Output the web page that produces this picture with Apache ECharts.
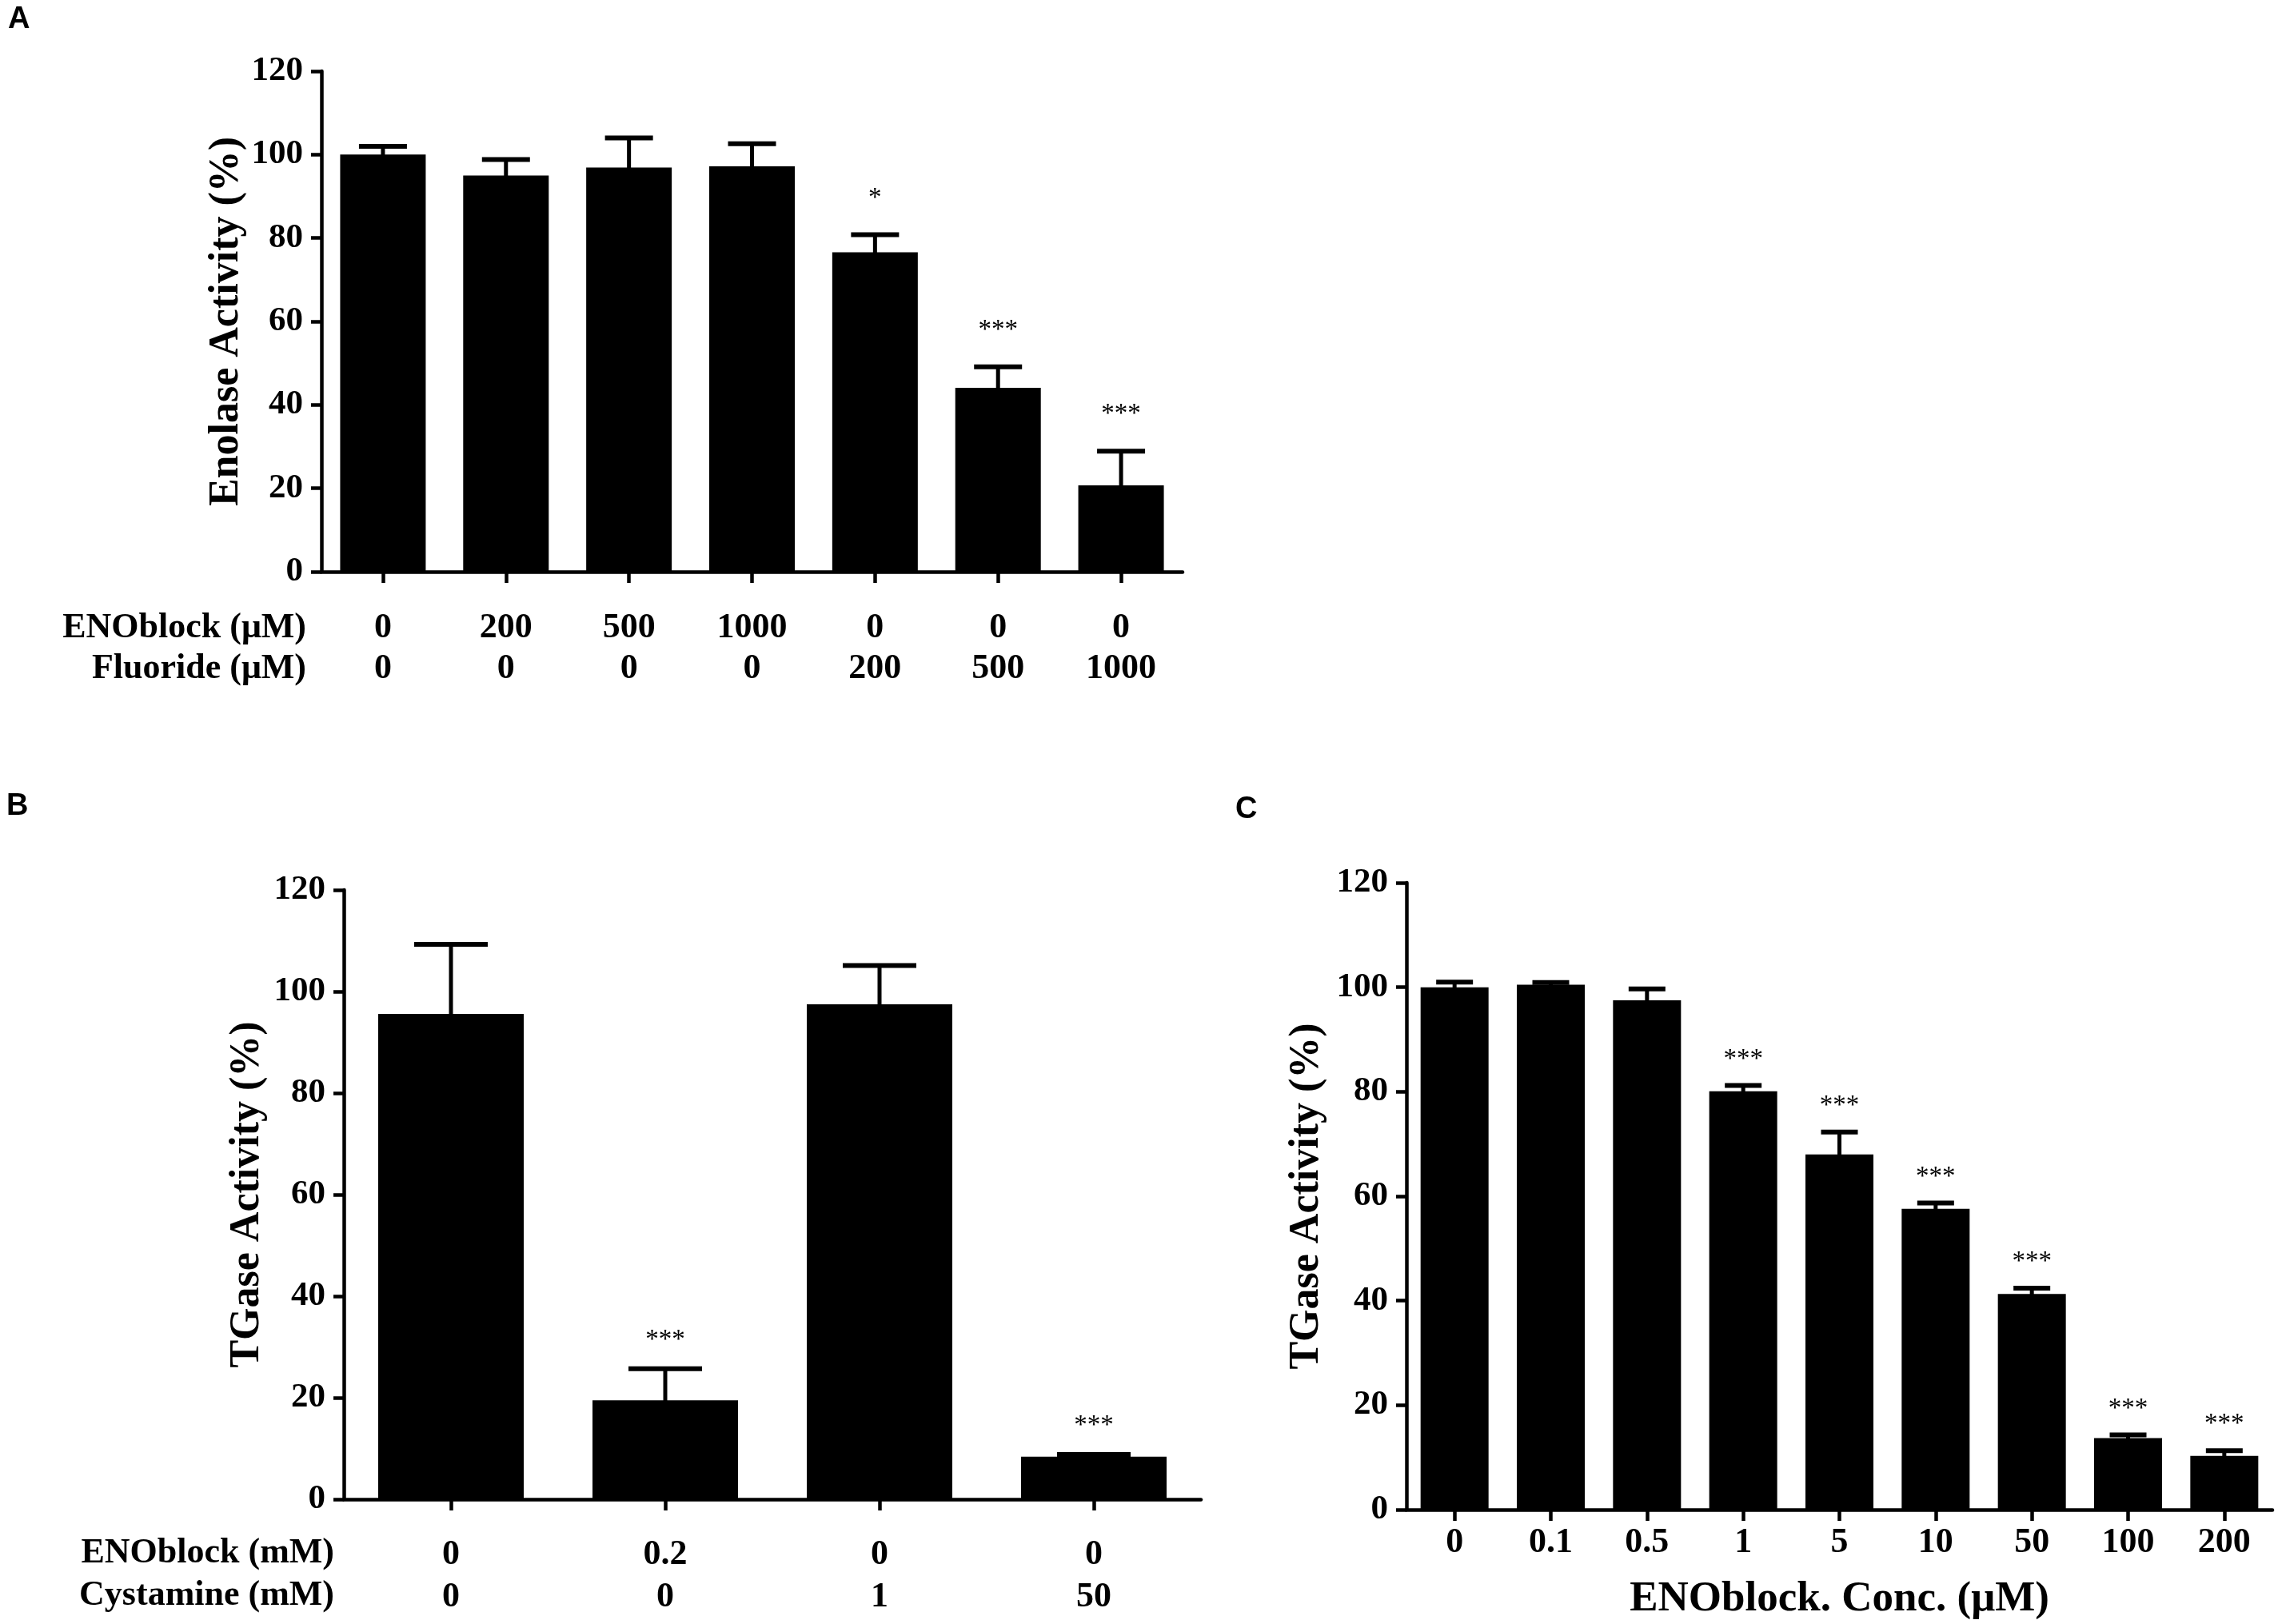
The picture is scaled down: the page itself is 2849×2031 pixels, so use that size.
<!DOCTYPE html>
<html>
<head>
    <meta charset="utf-8">
    <title>Enolase / TGase activity</title>
    <script src="https://cdn.jsdelivr.net/npm/echarts@6/dist/echarts.min.js"></script>
</head>
<body style="margin:0;background:#fff;">
<div id="main" style="width:2849px;height:2031px;"></div>

<script type="text/javascript">
    // panel A
    var enoblockA = ['0', '200', '500', '1000', '0', '0', '0'];
    var fluorideA = ['0', '0', '0', '0', '200', '500', '1000'];
    var meanA = [100, 95, 96.9, 97.2, 76.6, 44.1, 20.7];
    var semA = [2.0, 3.8, 7.1, 5.4, 4.2, 5.0, 8.2];
    var starA = ['', '', '', '', '*', '***', '***'];

    // panel B
    var enoblockB = ['0', '0.2', '0', '0'];
    var cystamineB = ['0', '0', '1', '50'];
    var meanB = [95.6, 19.5, 97.5, 8.4];
    var semB = [13.7, 6.2, 7.6, 0.4];
    var starB = ['', '***', '', '***'];

    // panel C
    var concC = ['0', '0.1', '0.5', '1', '5', '10', '50', '100', '200'];
    var meanC = [100, 100.5, 97.5, 80.1, 68, 57.6, 41.3, 13.7, 10.3];
    var semC = [1.0, 0.4, 2.2, 1.1, 4.3, 1.1, 1.1, 0.6, 1.0];
    var starC = ['', '', '', '***', '***', '***', '***', '***', '***'];

    var yTicks = [0, 120, 20];

    var serif = 'Liberation Serif';
    var chart = echarts.init(document.getElementById('main'));

    var idx = function (n) {
        var out = [];
        for (var i = 0; i < n; i++) out.push(String(i));
        return out;
    };

    // 误差线 + 星号
    var errRender = function (stars, capW, starOff) {
        return function (params, api) {
            var i = api.value(0), m = api.value(1), e = api.value(2);
            var base = api.coord([i, m]);
            var top = api.coord([i, m + e]);
            var kids = [
                {type: 'line', shape: {x1: top[0], y1: base[1] + 3, x2: top[0], y2: top[1]},
                 style: {stroke: '#000', lineWidth: 5}},
                {type: 'line', shape: {x1: top[0] - capW / 2, y1: top[1], x2: top[0] + capW / 2, y2: top[1]},
                 style: {stroke: '#000', lineWidth: 6}}
            ];
            if (stars[i]) {
                kids.push({type: 'text', x: top[0], y: top[1] - starOff,
                    style: {text: stars[i], font: '33px "Liberation Serif"', fill: '#000',
                            align: 'center', verticalAlign: 'bottom'}});
            }
            return {type: 'group', children: kids};
        };
    };

    var yAxisOf = function (gridIndex, name, gap) {
        return {
            type: 'value', gridIndex: gridIndex,
            min: yTicks[0], max: yTicks[1], interval: yTicks[2],
            splitLine: {show: false},
            axisLine: {show: true, lineStyle: {color: '#000', width: 4.5}},
            axisTick: {show: true, length: 13, lineStyle: {color: '#000', width: 4.5}},
            axisLabel: {margin: 23, color: '#000', fontFamily: serif, fontWeight: 'bold', fontSize: 43},
            name: name, nameLocation: 'middle', nameRotate: 90, nameGap: gap,
            nameTextStyle: {color: '#000', fontFamily: serif, fontWeight: 'bold', fontSize: 52}
        };
    };

    var xAxisOf = function (gridIndex, n, fmt, margin, lineH) {
        return {
            type: 'category', gridIndex: gridIndex, data: idx(n),
            axisLine: {show: true, lineStyle: {color: '#000', width: 4.5}},
            axisTick: {show: true, alignWithLabel: true, length: 14, lineStyle: {color: '#000', width: 4.5}},
            axisLabel: {interval: 0, margin: margin, lineHeight: lineH, color: '#000',
                        fontFamily: serif, fontWeight: 'bold', fontSize: 44, formatter: fmt}
        };
    };

    var xA = xAxisOf(0, meanA.length, function (v, i) { return enoblockA[i] + '\n' + fluorideA[i]; }, 45, 51);
    var xB = xAxisOf(1, meanB.length, function (v, i) { return enoblockB[i] + '\n' + cystamineB[i]; }, 43, 53);
    var xC = xAxisOf(2, meanC.length, function (v, i) { return concC[i]; }, 20, 44);
    xC.name = 'ENOblock. Conc. (\u03bcM)';
    xC.nameLocation = 'middle';
    xC.nameGap = 86;
    xC.nameTextStyle = {color: '#000', fontFamily: serif, fontWeight: 'bold', fontSize: 53};

    var errData = function (mean, sem) {
        return mean.map(function (m, i) { return [i, m, sem[i]]; });
    };

    // 行标题（右对齐在 y 轴左侧）
    var headText = function (txt, right, y) {
        return {
            type: 'text', x: right, y: y,
            style: {text: txt, fill: '#000', font: 'bold 44px "Liberation Serif"',
                    align: 'right', verticalAlign: 'middle'}
        };
    };

    var letter = function (txt, x, y) {
        return {
            type: 'text', x: x, y: y,
            style: {text: txt, fill: '#000', font: 'bold 38px "Liberation Sans"'}
        };
    };

    var option = {
        animation: false,
        backgroundColor: '#fff',
        grid: [
            {left: 402, top: 89, width: 1077, height: 626},
            {left: 430, top: 1113, width: 1072, height: 762},
            {left: 1759, top: 1104, width: 1083, height: 784}
        ],
        xAxis: [xA, xB, xC],
        yAxis: [
            yAxisOf(0, 'Enolase Activity (%)', 92),
            yAxisOf(1, 'TGase Activity (%)', 94),
            yAxisOf(2, 'TGase Activity (%)', 98)
        ],
        series: [
            {type: 'bar', xAxisIndex: 0, yAxisIndex: 0, data: meanA, barWidth: 107,
             itemStyle: {color: '#000'}},
            {type: 'custom', xAxisIndex: 0, yAxisIndex: 0, data: errData(meanA, semA),
             encode: {x: 0, y: 1}, renderItem: errRender(starA, 60, 29), z: 3},
            {type: 'bar', xAxisIndex: 1, yAxisIndex: 1, data: meanB, barWidth: 182,
             itemStyle: {color: '#000'}},
            {type: 'custom', xAxisIndex: 1, yAxisIndex: 1, data: errData(meanB, semB),
             encode: {x: 0, y: 1}, renderItem: errRender(starB, 92, 19), z: 3},
            {type: 'bar', xAxisIndex: 2, yAxisIndex: 2, data: meanC, barWidth: 85,
             itemStyle: {color: '#000'}},
            {type: 'custom', xAxisIndex: 2, yAxisIndex: 2, data: errData(meanC, semC),
             encode: {x: 0, y: 1}, renderItem: errRender(starC, 46, 16), z: 3}
        ],
        graphic: [
            letter('A', 10, 6),
            letter('B', 8, 990),
            letter('C', 1545, 994),
            headText('ENOblock (\u03bcM)', 383, 786),
            headText('Fluoride (\u03bcM)', 383, 837),
            headText('ENOblock (mM)', 418, 1943),
            headText('Cystamine (mM)', 418, 1996)
        ]
    };

    chart.setOption(option);
</script>
</body>
</html>
